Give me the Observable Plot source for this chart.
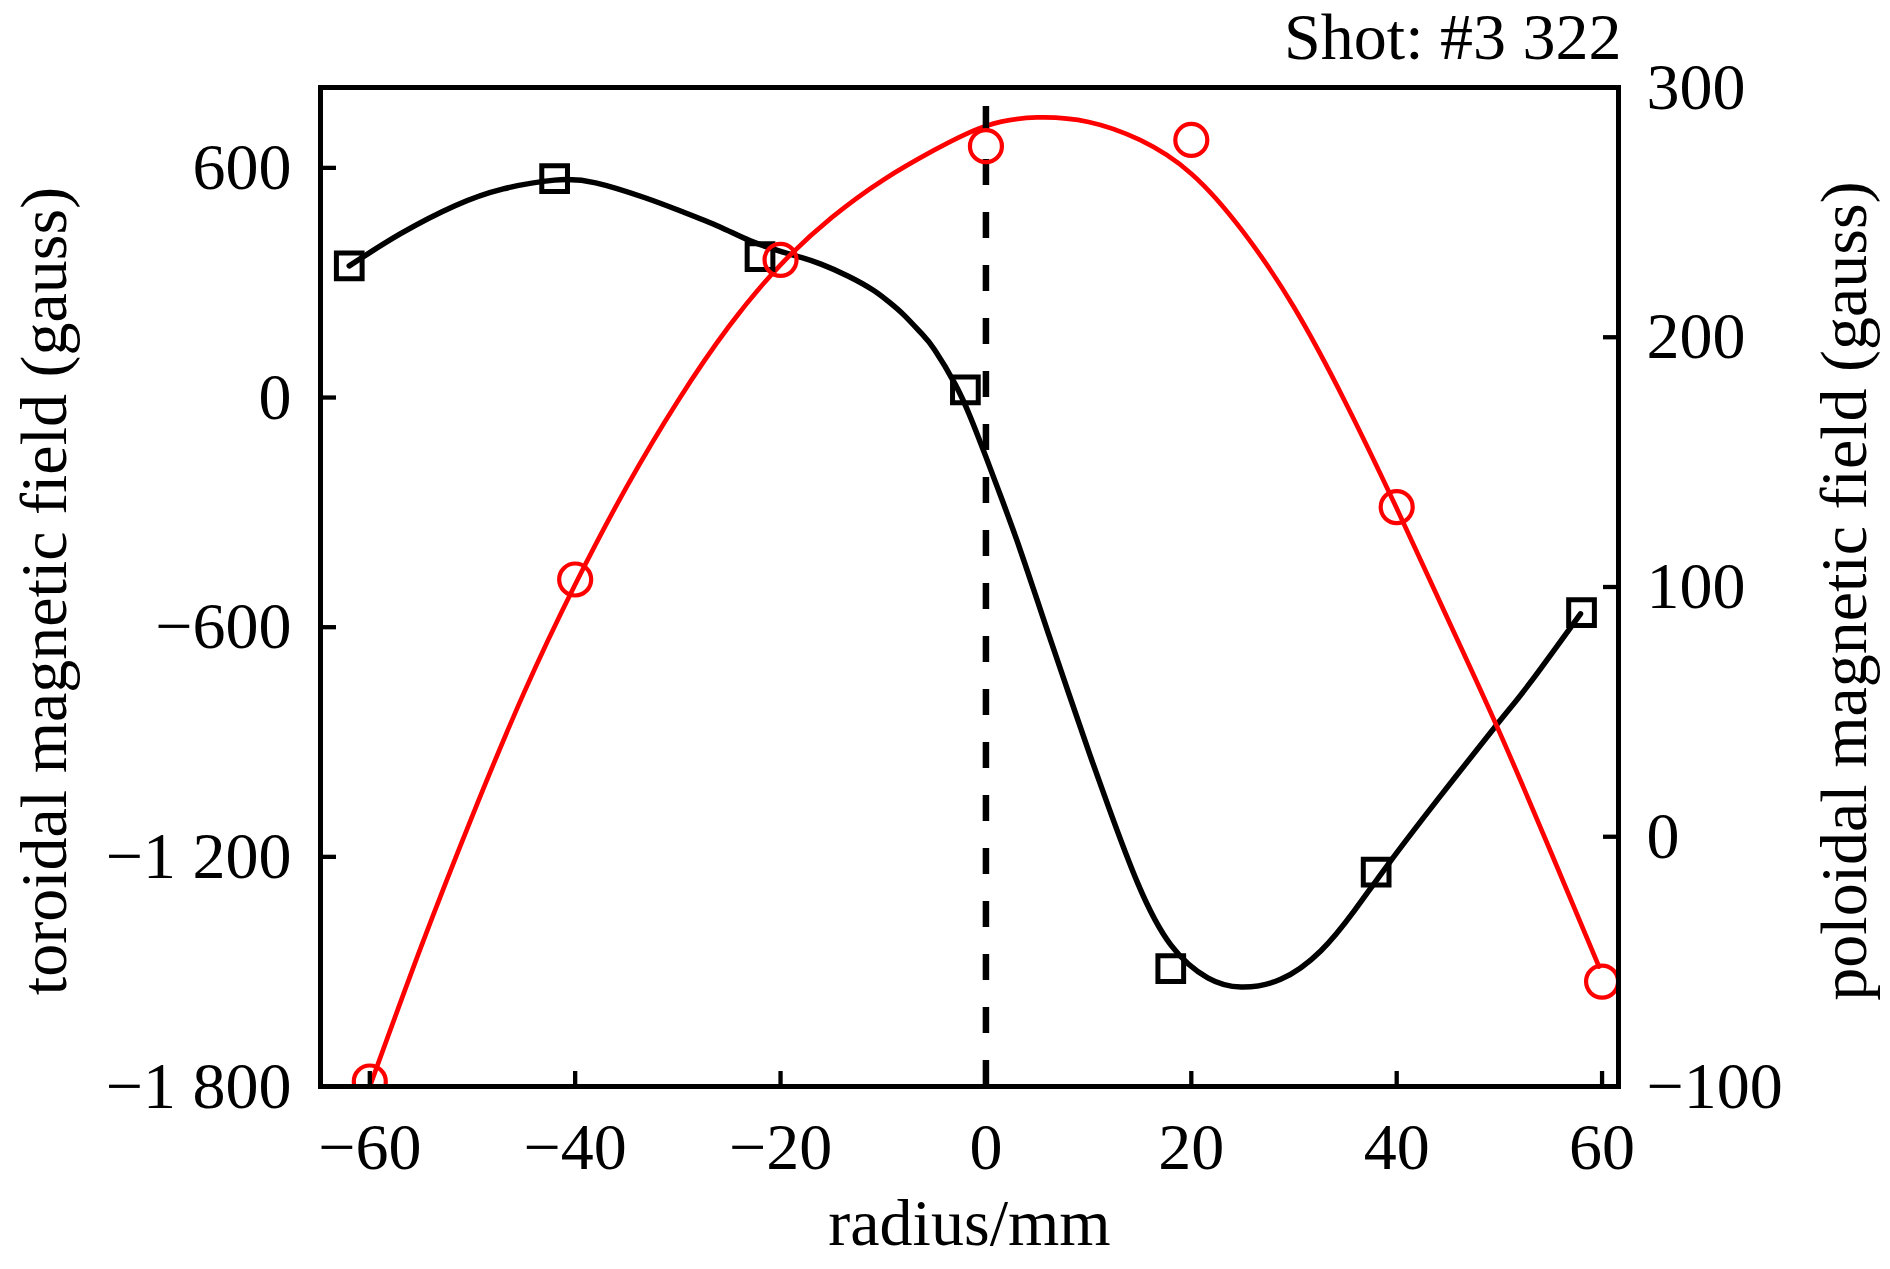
<!DOCTYPE html>
<html>
<head>
<meta charset="utf-8">
<script src="https://cdn.jsdelivr.net/npm/d3@7"></script>
<script src="https://cdn.jsdelivr.net/npm/@observablehq/plot@0.6"></script>
<style>
  html, body { margin: 0; padding: 0; background: #fff; }
  #chart svg { display: block; }
</style>
</head>
<body>
<div id="chart"></div>
<script>
// ---- measured points ----
const torRadius = [-62, -42, -22, -2, 18, 38, 58];
const toroidal  = [344, 572, 368, 20, -1492, -1240, -562];
const polRadius = [-60, -40, -20, 0, 20, 40, 60];
const poloidal  = [-98, 103, 231, 276.5, 279, 132, -58];

// ---- fitted curves ----
const torFitRadius = [-62, -57, -51.7, -47, -42, -38, -33.2, -29.6, -26, -23, -20, -18, -16, -13.4, -11, -9.5, -8, -6.3, -5, -3, -1.5, 0, 1.5, 3, 4.5, 6, 8, 10, 12, 14.8, 18, 21.6, 24.85, 28.7, 32.6, 35.9, 39.1, 44, 49.8, 53, 57.9];
const torFit       = [344, 428, 501, 545, 568, 561, 522, 486, 447, 410, 382, 366, 348, 317, 281, 251, 216, 168, 125, 35, -52, -155, -262, -372, -490, -610, -768, -924, -1074, -1270, -1430, -1516, -1540, -1520, -1446, -1340, -1222, -1050, -853, -745, -565];
const polFitRadius = [-60, -55, -50, -45, -40, -35, -30, -25, -20, -15, -10, -5, 0, 5, 10, 15, 20, 25, 30, 35, 40, 45, 50, 55, 59.7];
const polFit       = [-100, -44, 8.5, 57.5, 101, 140, 174.5, 204.5, 229, 248, 263, 275, 284.6, 288, 286.2, 279, 265.5, 242.5, 212, 174, 131.5, 87, 42, -6, -52];

// ---- axes ----
const xTicks = [-60, -40, -20, 0, 20, 40, 60];
const xDomain = [-64.8, 61.6];
const leftTicks = [600, 0, -600, -1200, -1800];
const leftDomain = [-1800, 810];
const rightTicks = [300, 200, 100, 0, -100];
const rightDomain = [-100, 300];

const titleText = "Shot: #3 322";
const xLabel = "radius/mm";
const leftLabel = "toroidal magnetic field (gauss)";
const rightLabel = "poloidal magnetic field (gauss)";

// ---- build tables ----
const toLeft = d3.scaleLinear(rightDomain, leftDomain);
const fmtNum = v => {
  const a = Math.abs(v);
  const s = a >= 1000 ? Math.floor(a / 1000) + " " + String(a % 1000).padStart(3, "0") : String(a);
  return (v < 0 ? "\u2212" : "") + s;
};
const torPts = torRadius.map((r, i) => ({r, v: toroidal[i]}));
const polPts = polRadius.map((r, i) => ({r, v: toLeft(poloidal[i])}));
const torCurve = torFitRadius.map((r, i) => ({r, v: torFit[i]}));
const polCurve = polFitRadius.map((r, i) => ({r, v: toLeft(polFit[i])}));
const rightPos = rightTicks.map(t => toLeft(t));

const FONT = "Liberation Serif, Times New Roman, serif";
const FS = 66;

const chart = Plot.plot({
  width: 1890,
  height: 1269,
  marginLeft: 320,
  marginRight: 272,
  marginTop: 87,
  marginBottom: 183,
  style: {fontFamily: FONT, fontSize: FS + "px", background: "#fff", color: "#000"},
  x: {domain: xDomain, label: null},
  y: {domain: leftDomain, label: null},
  marks: [
    Plot.line(torCurve, {x: "r", y: "v", stroke: "#000", strokeWidth: 5.5, curve: "natural", clip: true}),
    Plot.line(polCurve, {x: "r", y: "v", stroke: "#ff0000", strokeWidth: 4.7, curve: "natural", clip: true}),
    Plot.ruleX([0], {y1: leftDomain[0], y2: leftDomain[1], stroke: "#000", strokeWidth: 6.5, strokeDasharray: "26,27"}),
    Plot.dot(torPts, {x: "r", y: "v", symbol: "square", r: 14.5, stroke: "#000", strokeWidth: 5, fill: "none"}),
    Plot.dot(polPts, {x: "r", y: "v", symbol: "circle", r: 16, stroke: "#ff0000", strokeWidth: 4.2, fill: "none", clip: true}),
    // bottom axis
    Plot.axisX({anchor: "bottom", ticks: xTicks, tickSize: -15, strokeWidth: 4.3, text: null, label: null}),
    Plot.axisX({anchor: "bottom", ticks: xTicks, tickSize: 0, tickPadding: 36, tickFormat: fmtNum, fontSize: FS, label: null}),
    // left axis
    Plot.axisY({anchor: "left", ticks: leftTicks, tickSize: -16, strokeWidth: 4.3, text: null, label: null}),
    Plot.axisY({anchor: "left", ticks: leftTicks, tickSize: 0, tickPadding: 29, tickFormat: fmtNum, fontSize: FS, label: null}),
    // right axis (poloidal scale mapped onto left domain)
    Plot.axisY({anchor: "right", ticks: rightPos, tickSize: -16, strokeWidth: 4.3, text: null, label: null}),
    Plot.axisY({anchor: "right", ticks: rightPos, tickSize: 0, tickPadding: 28, tickFormat: (d, i) => fmtNum(rightTicks[i]), fontSize: FS, label: null}),
    Plot.frame({stroke: "#000", strokeWidth: 5}),
    // labels
    Plot.text([xLabel], {text: d => d, frameAnchor: "bottom", textAnchor: "middle", dy: 158, fontSize: FS, fill: "#000"}),
    Plot.text([leftLabel], {text: d => d, frameAnchor: "left", textAnchor: "middle", rotate: -90, dx: -276, dy: 4, fontSize: FS, fill: "#000"}),
    Plot.text([rightLabel], {text: d => d, frameAnchor: "right", textAnchor: "middle", rotate: -90, dx: 226, dy: 4, fontSize: FS, fill: "#000"}),
    Plot.text([titleText], {text: d => d, frameAnchor: "top-right", textAnchor: "end", dx: 3, dy: -75, fontSize: FS, fill: "#000"})
  ]
});
document.getElementById("chart").appendChild(chart);
</script>
</body>
</html>
